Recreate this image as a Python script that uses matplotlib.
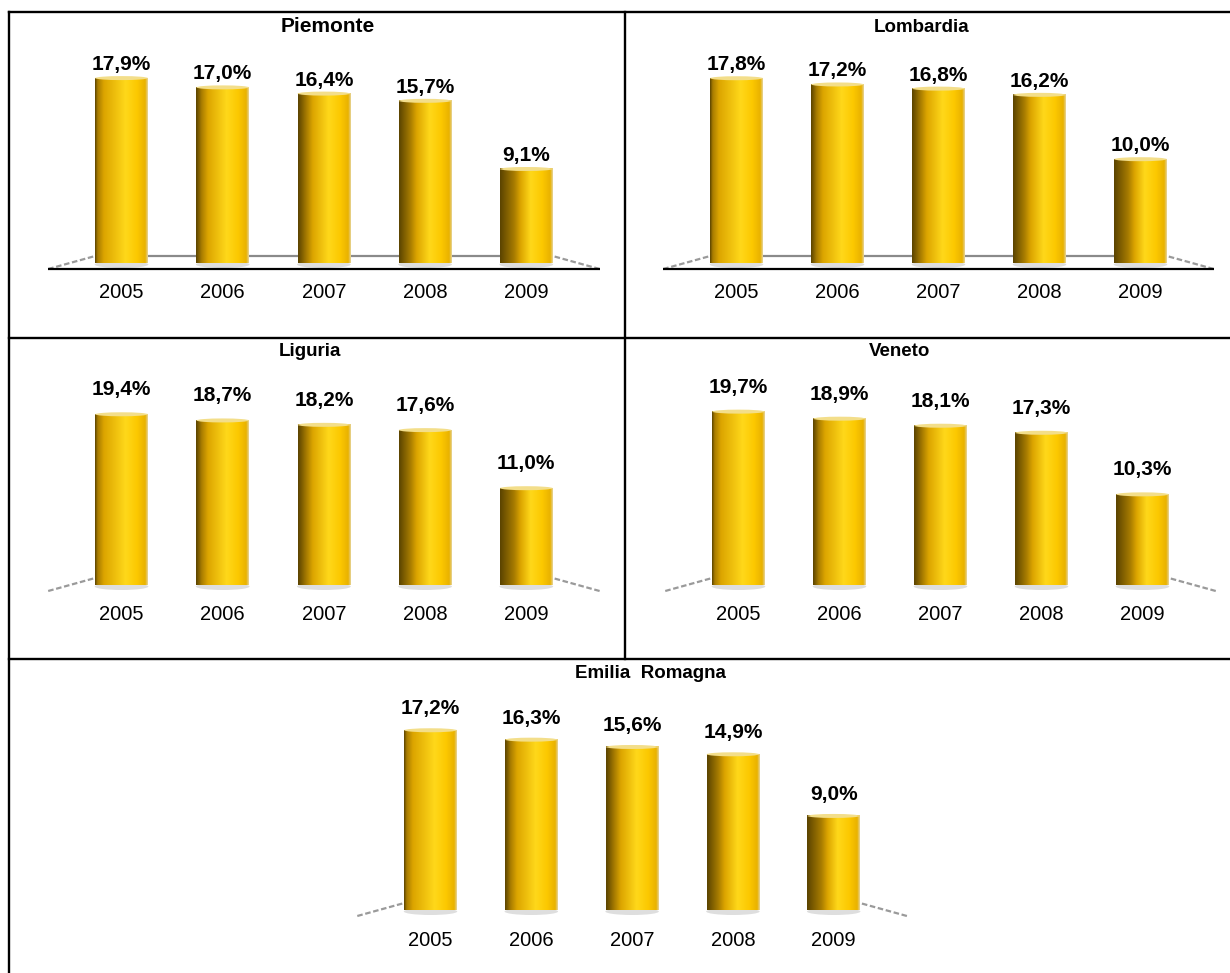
import numpy as np
import matplotlib
matplotlib.use("Agg")
import matplotlib.pyplot as plt
from matplotlib.colors import LinearSegmentedColormap
from matplotlib.patches import Ellipse
from matplotlib.lines import Line2D

plt.rcParams["font.family"] = ["Liberation Sans", "DejaVu Sans"]

W, H = 1230, 973

years = ["2005", "2006", "2007", "2008", "2009"]
regions = ["Piemonte", "Lombardia", "Liguria", "Veneto", "Emilia  Romagna"]
piemonte = [17.9, 17.0, 16.4, 15.7, 9.1]
lombardia = [17.8, 17.2, 16.8, 16.2, 10.0]
liguria = [19.4, 18.7, 18.2, 17.6, 11.0]
veneto = [19.7, 18.9, 18.1, 17.3, 10.3]
emilia = [17.2, 16.3, 15.6, 14.9, 9.0]

# pixel layout of each cell: box (l, t, r, b), first bar centre, bar pitch,
# zero line, pixels per percent point, gap above bars for the value, title spot
panels = [
    dict(values=piemonte, title=regions[0], cell=(9, 12, 624, 338), x0=121.5,
         pitch=101.2, base=263, ppp=10.33, gap=8, tx=328, ty=27, tsize=15,
         front=True),
    dict(values=lombardia, title=regions[1], cell=(624, 12, 1240, 338), x0=736.5,
         pitch=101.0, base=263, ppp=10.38, gap=8, tx=922, ty=27, tsize=13.5,
         front=True),
    dict(values=liguria, title=regions[2], cell=(9, 338, 624, 659), x0=121.5,
         pitch=101.2, base=585, ppp=8.8, gap=19, tx=310, ty=351, tsize=13.5,
         front=False),
    dict(values=veneto, title=regions[3], cell=(624, 338, 1240, 659), x0=738.5,
         pitch=101.0, base=585, ppp=8.8, gap=19, tx=900, ty=351, tsize=13.5,
         front=False),
    dict(values=emilia, title=regions[4], cell=(9, 659, 1240, 990), x0=430.5,
         pitch=100.8, base=910, ppp=10.45, gap=16, tx=650, ty=674, tsize=13.5,
         front=False),
]

BAR_W = 0.52


def bar_cmap(i):
    # darker left flank grows toward the right-hand bars
    d = 0.05 + 0.055 * i
    stops = [(0.0, "#5a4300"), (d, "#a87c00"), (d + 0.12, "#dca500"),
             (0.58, "#ffd81a"), (0.8, "#fcc800"), (0.95, "#e9b200"),
             (1.0, "#e6d49a")]
    return LinearSegmentedColormap.from_list(f"gold{i}", stops)


def draw_panel(fig, p):
    l, t, r, b = p["cell"]
    ax = fig.add_axes([l / W, 1 - b / H, (r - l) / W, (b - t) / H])
    xlim = ((l - p["x0"]) / p["pitch"], (r - p["x0"]) / p["pitch"])
    ylim = ((p["base"] - b) / p["ppp"], (p["base"] - t) / p["ppp"])
    px = 1 / p["pitch"]   # one pixel in x data units
    py = 1 / p["ppp"]     # one pixel in y data units
    grad = np.linspace(0, 1, 256).reshape(1, -1)

    for i, v in enumerate(p["values"]):
        x_l, x_r = i - BAR_W / 2, i + BAR_W / 2
        # floor shadow under the cylinder
        ax.add_patch(Ellipse((i, -1.5 * py), BAR_W * 1.02, 7 * py,
                             facecolor="#dedede", edgecolor="none", zorder=2))
        ax.imshow(grad, cmap=bar_cmap(i), extent=(x_l, x_r, 0, v),
                  aspect="auto", interpolation="bilinear", zorder=3)
        # pale rim on the top face
        ax.add_patch(Ellipse((i, v), BAR_W, 4 * py, facecolor="#f3de8a",
                             edgecolor="none", zorder=4))
        ax.annotate(f"{v:.1f}%".replace(".", ","), (i, v), xytext=(0, p["gap"]),
                    textcoords="offset pixels", ha="center", va="baseline",
                    fontsize=15, fontweight="bold", color="#000000", zorder=5)
        ax.annotate(years[i], (i, 0), xytext=(0, -30),
                    textcoords="offset pixels", ha="center", va="center",
                    fontsize=14.5, color="#000000")

    n = len(p["values"]) - 1
    x_first, x_last = -BAR_W / 2, n + BAR_W / 2
    back = 7 * py
    front = -6 * py
    lx, rx = x_first - 47 * px, x_last + 47 * px
    if p["front"]:
        ax.plot([x_first, x_last], [back, back], color="#8a8a8a", lw=1.6,
                zorder=1, solid_capstyle="butt")
        ax.plot([lx, rx], [front, front], color="#000000", lw=1.6, zorder=6,
                solid_capstyle="butt")
    for xs in ([lx, x_first], [rx, x_last]):
        ax.plot(xs, [front, back], color="#9a9a9a", lw=1.6, zorder=1,
                dashes=(2.5, 1.2))

    ax.text((p["tx"] - p["x0"]) / p["pitch"],
            (p["base"] - p["ty"]) / p["ppp"], p["title"], ha="center",
            va="center", fontsize=p["tsize"], fontweight="bold", color="#000000")

    ax.set_xlim(*xlim)
    ax.set_ylim(*ylim)
    ax.axis("off")
    return ax


fig = plt.figure(figsize=(W / 100, H / 100), dpi=100)
fig.patch.set_facecolor("white")

for p in panels:
    draw_panel(fig, p)

# table grid around the five panels (right and bottom edges run past the page)
lw = 1.7
grid = [
    ((9, 1240), (12, 12)),
    ((9, 1240), (338, 338)),
    ((9, 1240), (659, 659)),
    ((9, 9), (12, 990)),
    ((624.5, 624.5), (12, 659)),
]
for xs, ys in grid:
    fig.add_artist(Line2D([x / W for x in xs], [1 - y / H for y in ys],
                          transform=fig.transFigure, color="black", lw=lw,
                          solid_capstyle="projecting"))

fig.savefig("out.png", dpi=100, facecolor="white")
